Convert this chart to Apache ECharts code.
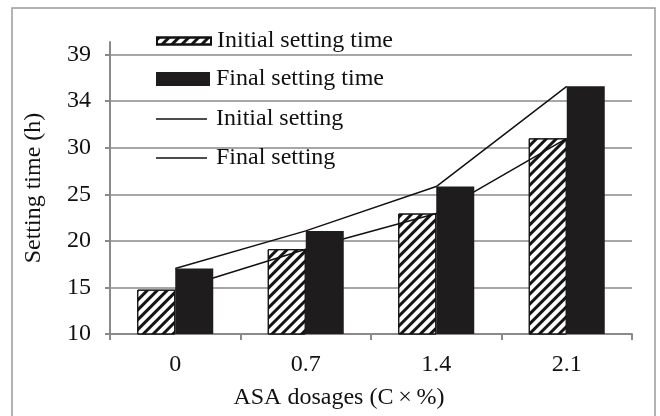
<!DOCTYPE html>
<html>
<head>
<meta charset="utf-8">
<script src="https://cdn.jsdelivr.net/npm/echarts@6/dist/echarts.min.js"></script>
<style>
  html, body { margin: 0; padding: 0; background: #fff; }
  #chart { width: 660px; height: 416px; }
</style>
</head>
<body>
<div id="chart"></div>
<script>
// ASA dosage levels (C x %)
const categories = ['0', '0.7', '1.4', '2.1'];
// Setting times in hours
const initialSetting = [14.6, 18.8, 22.5, 30.3];
const finalSetting = [16.8, 20.7, 25.3, 35.7];
// Value axis: evenly spaced ticks between 10 and 39, with the printed labels
const yTickValues = [10, 14.833, 19.667, 24.5, 29.333, 34.167, 39];
const yTickLabels = ['10', '15', '20', '25', '30', '34', '39'];

const FONT = 'Liberation Serif';
const GRAY = '#8a8a8a';
const TEXT = '#111';

const chart = echarts.init(document.getElementById('chart'), null, { renderer: 'canvas' });

// One legend block per entry so each key can have its own swatch size
function legendAt(name, top, w, h, textGap) {
  return {
    data: [name],
    left: 156,
    top: top,
    padding: 0,
    icon: 'rect',
    itemWidth: w,
    itemHeight: h,
    selectedMode: false,
    textStyle: { fontFamily: FONT, fontSize: 24, color: TEXT, padding: [0, 0, 0, textGap] }
  };
}

chart.setOption({
  backgroundColor: '#fff',
  animation: false,
  graphic: [{
    type: 'rect',
    shape: { x: 12, y: 8, width: 643, height: 420 },
    style: { fill: 'none', stroke: '#9a9a9a', lineWidth: 1.5 },
    silent: true
  }],
  legend: [
    legendAt('Initial setting time', 29, 54, 7, 1),
    legendAt('Final setting time', 67, 54, 14, 1),
    legendAt('Initial setting', 107, 51, 1.5, 4),
    legendAt('Final setting', 146, 51, 1.5, 4)
  ],
  grid: { left: 110, right: 28, top: 42, bottom: 82 },
  xAxis: {
    type: 'category',
    data: categories,
    boundaryGap: true,
    name: 'ASA dosages (C\u2009\u00d7\u2009%)',
    nameLocation: 'middle',
    nameGap: 52,
    nameTextStyle: { fontFamily: FONT, fontSize: 24, color: TEXT, padding: [0, 64, 0, 0] },
    axisLine: { lineStyle: { color: GRAY, width: 2 } },
    axisTick: { show: true, length: 6, lineStyle: { color: GRAY, width: 2 } },
    axisLabel: { fontFamily: FONT, fontSize: 24, color: TEXT, margin: 19 }
  },
  yAxis: {
    type: 'value',
    min: 10,
    max: 40.3,
    name: 'Setting time (h)',
    nameLocation: 'middle',
    nameRotate: 90,
    nameGap: 64,
    nameTextStyle: { fontFamily: FONT, fontSize: 24, color: TEXT },
    axisLine: { show: true, lineStyle: { color: GRAY, width: 2 } },
    axisTick: { show: true, length: 5, customValues: yTickValues, lineStyle: { color: GRAY, width: 2 } },
    axisLabel: {
      customValues: yTickValues,
      fontFamily: FONT, fontSize: 24, color: TEXT, margin: 19,
      formatter: function (v) {
        let best = 0;
        yTickValues.forEach(function (t, i) {
          if (Math.abs(t - v) < Math.abs(yTickValues[best] - v)) best = i;
        });
        return yTickLabels[best];
      }
    },
    splitLine: { show: true, lineStyle: { color: GRAY, width: 1.5 } }
  },
  series: [
    {
      name: 'Initial setting time',
      type: 'bar',
      data: initialSetting,
      barWidth: 38,
      barGap: '0%',
      z: 2,
      itemStyle: {
        color: '#fff',
        borderColor: TEXT,
        borderWidth: 1,
        decal: {
          symbol: 'rect',
          color: '#151515',
          dashArrayX: [1, 0],
          dashArrayY: [3, 4],
          rotation: -Math.PI / 4
        }
      }
    },
    {
      name: 'Final setting time',
      type: 'bar',
      data: finalSetting,
      barWidth: 38,
      barGap: '0%',
      z: 4,
      itemStyle: { color: '#1e1c1c', borderWidth: 0 }
    },
    {
      name: 'Initial setting',
      type: 'line',
      data: initialSetting,
      symbol: 'none',
      z: 3,
      lineStyle: { color: TEXT, width: 1.5 },
      itemStyle: { color: TEXT }
    },
    {
      name: 'Final setting',
      type: 'line',
      data: finalSetting,
      symbol: 'none',
      z: 3,
      lineStyle: { color: TEXT, width: 1.5 },
      itemStyle: { color: TEXT }
    }
  ]
});
</script>
</body>
</html>
